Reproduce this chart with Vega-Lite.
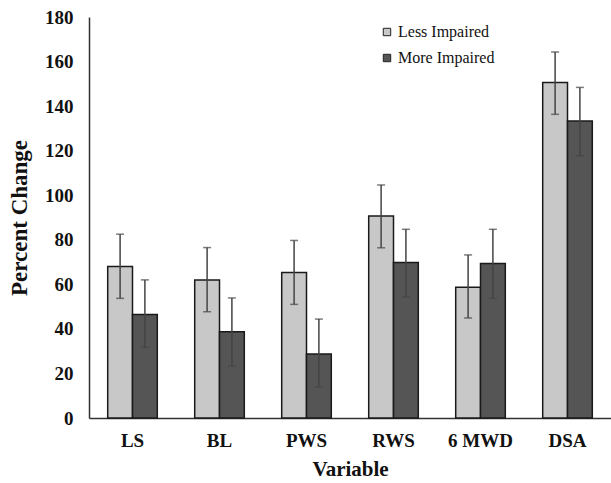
{
  "$schema": "https://vega.github.io/schema/vega-lite/v6.json",
  "width": 522,
  "height": 401,
  "autosize": {"type": "none"},
  "padding": {"left": 89, "top": 17, "right": 0, "bottom": 65},
  "background": "white",
  "config": {
    "view": {"stroke": null},
    "font": "Liberation Serif"
  },
  "data": {
    "values": [
      {"variable": "LS", "group": "Less Impaired", "value": 68, "lo": 53.7, "hi": 82.5},
      {"variable": "LS", "group": "More Impaired", "value": 46.5, "lo": 31.7, "hi": 62},
      {"variable": "BL", "group": "Less Impaired", "value": 62, "lo": 47.7, "hi": 76.5},
      {"variable": "BL", "group": "More Impaired", "value": 38.7, "lo": 23.3, "hi": 53.9},
      {"variable": "PWS", "group": "Less Impaired", "value": 65.3, "lo": 51, "hi": 79.7},
      {"variable": "PWS", "group": "More Impaired", "value": 28.7, "lo": 14, "hi": 44.4},
      {"variable": "RWS", "group": "Less Impaired", "value": 90.7, "lo": 76.4, "hi": 104.6},
      {"variable": "RWS", "group": "More Impaired", "value": 69.8, "lo": 54.3, "hi": 84.7},
      {"variable": "6 MWD", "group": "Less Impaired", "value": 58.7, "lo": 44.9, "hi": 73.2},
      {"variable": "6 MWD", "group": "More Impaired", "value": 69.3, "lo": 53.7, "hi": 84.7},
      {"variable": "DSA", "group": "Less Impaired", "value": 150.6, "lo": 136.3, "hi": 164.3},
      {"variable": "DSA", "group": "More Impaired", "value": 133.3, "lo": 117.7, "hi": 148.4}
    ]
  },
  "encoding": {
    "x": {
      "field": "variable",
      "type": "nominal",
      "sort": ["LS", "BL", "PWS", "RWS", "6 MWD", "DSA"],
      "scale": {"paddingInner": 0.43, "paddingOuter": 0.215},
      "axis": {
        "title": "Variable",
        "titleFont": "Liberation Serif",
        "titleFontSize": 21,
        "titleFontWeight": "bold",
        "titleColor": "#111",
        "titlePadding": 8,
        "labelFont": "Liberation Serif",
        "labelFontSize": 19,
        "labelFontWeight": "bold",
        "labelColor": "#111",
        "labelAngle": 0,
        "labelPadding": 13,
        "ticks": false,
        "domainColor": "#333",
        "domainWidth": 1.5
      }
    },
    "xOffset": {"field": "group", "type": "nominal", "sort": ["Less Impaired", "More Impaired"]}
  },
  "layer": [
    {
      "mark": {"type": "bar", "stroke": "#1a1a1a", "strokeWidth": 1.5},
      "encoding": {
        "y": {
          "field": "value",
          "type": "quantitative",
          "scale": {"domain": [0, 180]},
          "axis": {
            "title": "Percent Change",
            "titleFont": "Liberation Serif",
            "titleFontSize": 23,
            "titleFontWeight": "bold",
            "titleColor": "#111",
            "titlePadding": 13,
            "values": [0, 20, 40, 60, 80, 100, 120, 140, 160, 180],
            "labelFont": "Liberation Serif",
            "labelFontSize": 19,
            "labelFontWeight": "bold",
            "labelColor": "#111",
            "labelPadding": 16,
            "ticks": false,
            "grid": false,
            "domainColor": "#333",
            "domainWidth": 1.5
          }
        },
        "fill": {
          "field": "group",
          "type": "nominal",
          "scale": {"domain": ["Less Impaired", "More Impaired"], "range": ["#c8c8c8", "#555555"]},
          "legend": {
            "title": null,
            "orient": "none",
            "legendX": 290,
            "legendY": 7,
            "symbolType": "square",
            "symbolSize": 55,
            "symbolStrokeColor": "#222",
            "symbolStrokeWidth": 1,
            "labelFont": "Liberation Serif",
            "labelFontSize": 16,
            "labelColor": "#111",
            "rowPadding": 10,
            "labelOffset": 3
          }
        }
      }
    },
    {
      "mark": {"type": "rule", "color": "#444", "strokeWidth": 1.5},
      "encoding": {
        "y": {"field": "lo", "type": "quantitative"},
        "y2": {"field": "hi"}
      }
    },
    {
      "mark": {"type": "tick", "color": "#444", "thickness": 1.5, "size": 8, "orient": "horizontal"},
      "encoding": {
        "y": {"field": "hi", "type": "quantitative"}
      }
    },
    {
      "mark": {"type": "tick", "color": "#444", "thickness": 1.5, "size": 8, "orient": "horizontal"},
      "encoding": {
        "y": {"field": "lo", "type": "quantitative"}
      }
    }
  ]
}
